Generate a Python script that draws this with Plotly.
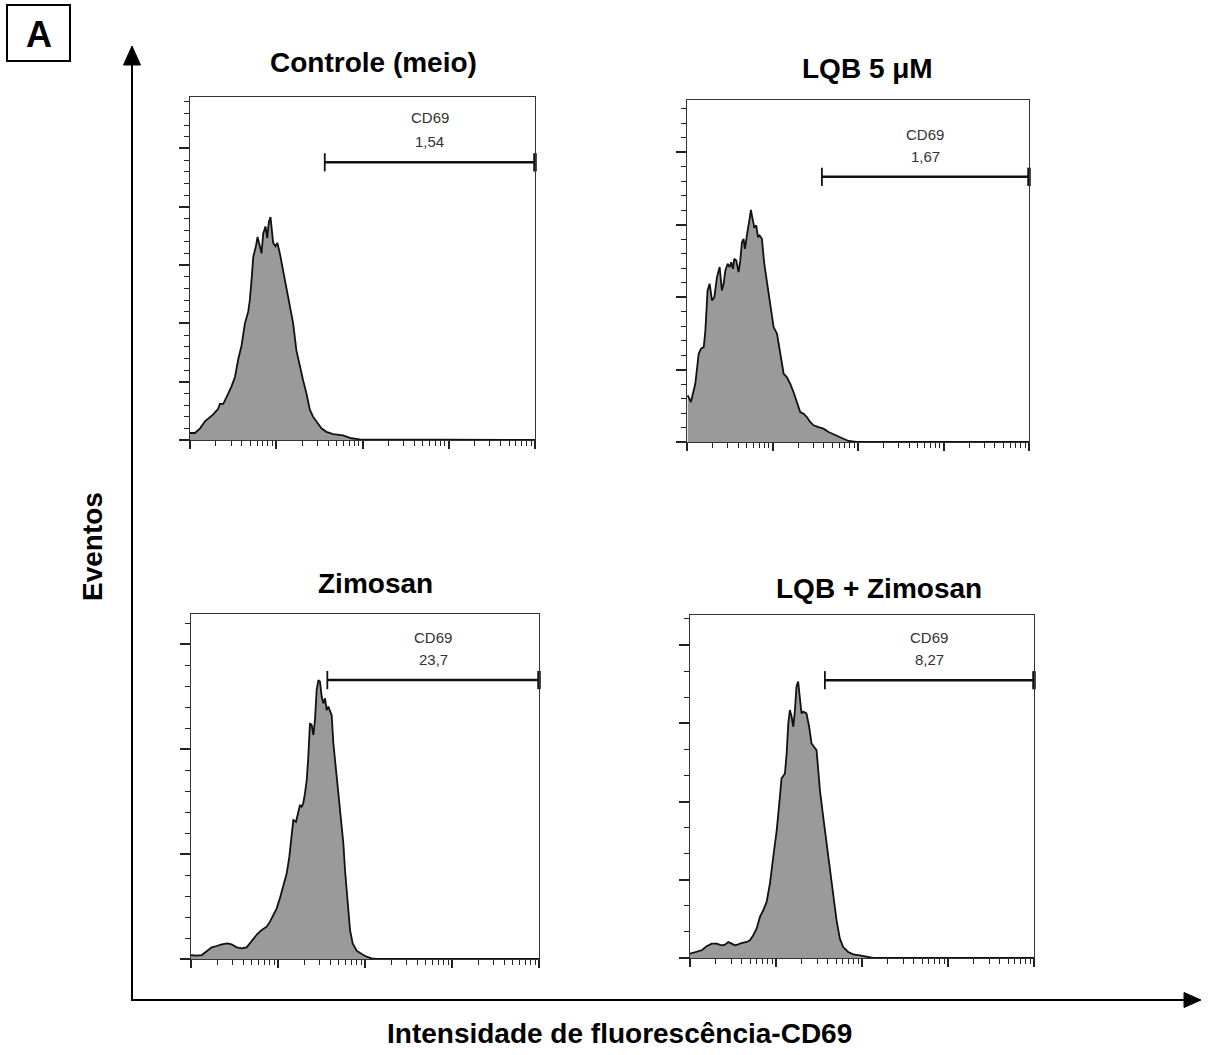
import math
import plotly.graph_objects as go

W, H = 1208, 1055

# ---------------- data ----------------
titles = ["Controle (meio)", "LQB 5 μM", "Zimosan", "LQB + Zimosan"]
gate_name = "CD69"
gate_pct = ["1,54", "1,67", "23,7", "8,27"]
gate_start = [36.5, 37.8, 36.9, 37.0]
gate_end = [10000, 10000, 10000, 10000]
gate_y = [238, 183, 266, 213]
label_name_y = [276, 212, 307, 246]
label_pct_y = [256, 197, 286, 229]

# Controle (meio)
ctrl_x = [1.0, 1.14, 1.31, 1.49, 1.86, 2.13, 2.22, 2.43, 2.78, 3.03, 3.32, 3.62, 3.96, 4.33,
          4.73, 4.94, 5.17, 5.41, 5.81, 6.07, 6.46, 6.75, 7.06, 7.51, 7.85, 8.21, 8.58, 8.89,
          9.21, 9.80, 10.3, 11.0, 12.0, 13.1, 14.4, 15.7, 17.1, 18.7, 20.5, 22.4, 24.5, 26.7,
          29.2, 33.4, 38.1, 45.6, 59.5, 74.3, 92.7, 126, 145, 10000]
ctrl_y = [6, 6, 10, 16, 22, 27, 31, 31, 40, 46, 54, 69, 81, 100,
          110, 120, 137, 157, 166, 174, 166, 160, 177, 183, 173, 187, 191, 180,
          169, 166, 169, 160, 146, 131, 114, 100, 77, 63, 51, 40, 26, 20,
          16, 10, 7, 5, 4, 1.5, 0.6, 0.6, 0, 0]

# LQB 5 µM
lqb_x = [1.02, 1.11, 1.25, 1.37, 1.46, 1.57, 1.64, 1.74, 1.84, 1.96, 2.09, 2.24, 2.41, 2.56,
         2.68, 2.81, 2.99, 3.15, 3.30, 3.45, 3.57, 3.77, 4.01, 4.20, 4.39, 4.59, 4.76, 4.93,
         5.12, 5.40, 5.59, 5.85, 6.12, 6.46, 6.76, 7.06, 7.52, 8.01, 8.77, 9.58, 10.3, 11.3,
         12.3, 13.5, 14.7, 16.1, 17.6, 19.3, 21.1, 23.1, 25.2, 27.6, 30.2, 34.5, 39.5, 45.2,
         51.7, 59.2, 67.7, 77.4, 96.9, 10000]
lqb_y = [32.2, 27.6, 40.2, 60.9, 64.4, 65.5, 77.0, 104.6, 109.2, 97.7, 100.0, 113.8, 120.7, 104.6,
         109.2, 118.4, 123.0, 120.7, 124.1, 119.5, 126.4, 125.3, 117.2, 125.3, 137.9, 140.2, 133.3, 141.4,
         146.0, 154.0, 160.2, 154.0, 148.3, 149.4, 141.4, 142.5, 140.2, 123.0, 106.9, 92.0, 79.3, 74.7,
         60.9, 47.1, 44.8, 40.2, 34.5, 27.6, 20.7, 19.5, 17.2, 13.8, 11.5, 10.3, 9.2, 6.9,
         5.3, 3.4, 2.3, 0.7, 0, 0]

# Zimosan
zym_x = [1.00, 1.16, 1.33, 1.51, 1.73, 1.97, 2.25, 2.62, 2.93, 3.35, 3.82, 4.36, 4.76, 5.20,
         5.78, 6.49, 7.41, 8.09, 8.84, 9.66, 10.5, 11.5, 12.6, 13.5, 14.4, 15.0, 16.1, 17.1,
         17.9, 18.7, 19.5, 20.4, 21.4, 22.3, 23.3, 24.4, 25.5, 26.6, 27.8, 29.1, 30.4, 31.8,
         33.2, 34.7, 36.3, 37.9, 39.6, 41.4, 43.3, 46.0, 49.4, 51.6, 53.9, 56.4, 58.9, 61.5,
         64.3, 67.3, 72.2, 80.2, 91.6, 104.5, 119.4, 136.2, 10000]
zym_y = [3.8, 3.2, 3.8, 7.0, 11.1, 12.4, 14.0, 14.9, 14.0, 11.1, 10.2, 11.1, 14.9, 19.7,
         23.8, 27.6, 30.8, 35.6, 41.9, 48.3, 57.8, 69.0, 81.7, 97.6, 119.8, 132.5, 130.9, 140.5,
         146.8, 145.2, 148.4, 157.9, 170.7, 192.9, 224.7, 223.1, 213.6, 227.9, 256.5, 266.0, 264.4, 250.1,
         243.8, 248.5, 237.4, 240.6, 235.8, 232.6, 205.6, 183.4, 162.7, 148.4, 129.3, 110.3, 84.9, 65.8,
         46.7, 27.6, 14.9, 7.9, 4.8, 2.2, 0.6, 0, 0]

# LQB + Zimosan
lqbzym_x = [1.00, 1.19, 1.37, 1.56, 1.79, 2.04, 2.33, 2.55, 2.79, 3.05, 3.33, 3.64, 3.98, 4.55,
            4.98, 5.44, 5.95, 6.50, 7.11, 7.78, 8.50, 9.29, 10.2, 11.1, 11.6, 12.7, 13.3, 13.9,
            14.5, 15.2, 15.9, 16.6, 17.3, 18.1, 19.0, 19.8, 20.7, 22.6, 24.3, 25.9, 27.6, 29.6,
            31.0, 32.4, 35.4, 38.7, 42.3, 46.2, 50.6, 55.3, 60.4, 69.1, 78.9, 94.4, 112.8, 134.8, 10000]
lqbzym_y = [3.3, 4.6, 5.9, 9.0, 11.0, 11.0, 9.7, 10.2, 12.3, 11.0, 9.7, 10.5, 11.5, 12.3,
            13.6, 17.4, 22.5, 31.5, 36.6, 43.0, 57.1, 77.5, 98.0, 123.6, 137.7, 141.5, 156.9, 179.9,
            190.1, 185.0, 177.3, 190.1, 208.0, 211.9, 195.3, 187.6, 188.9, 187.6, 177.3, 164.5, 162.0, 159.4,
            144.1, 128.7, 108.2, 87.8, 67.3, 46.8, 28.9, 14.8, 8.4, 4.6, 2.8, 2.0, 0.8, 0, 0]

series_x = [ctrl_x, lqb_x, zym_x, lqbzym_x]
series_y = [ctrl_y, lqb_y, zym_y, lqbzym_y]

x_major_ticks = [1, 10, 100, 1000, 10000]
x_minor_ticks = [m * 10 ** k for k in range(4) for m in range(2, 10)]

# ---------------- layout geometry (pixels) ----------------
panel_px = [(190, 535, 97, 440), (687, 1029, 100, 442), (191, 539, 614, 959), (690, 1034, 615, 958)]
y_top = [294, 236, 329, 263]
y_dtick = [50, 50, 100, 60]
y_minor = [10, 10, 20, 20]
title_px = [(373, 63), (867, 68), (375, 583), (879, 588)]

FONT = "Liberation Sans, Arial, Helvetica, sans-serif"


def px(x):
    return x / W


def py(y):
    return 1 - y / H


fig = go.Figure()
layout = {}
annotations = []
shapes = []

for i in range(4):
    sfx = "" if i == 0 else str(i + 1)
    xr, yr = "x" + sfx, "y" + sfx
    x0, x1, y0, y1 = panel_px[i]
    layout["xaxis" + sfx] = dict(
        domain=[px(x0), px(x1)], anchor=yr, type="log", range=[0, 4],
        showline=True, mirror=True, linecolor="#333333", linewidth=1,
        ticks="outside", tickmode="array", tickvals=x_major_ticks, ticklen=8, tickwidth=2,
        tickcolor="#222222", showticklabels=False, showgrid=False, zeroline=False,
        minor=dict(tickmode="array", tickvals=x_minor_ticks, ticks="outside", ticklen=5,
                   tickwidth=1, tickcolor="#222222", showgrid=False),
    )
    layout["yaxis" + sfx] = dict(
        domain=[py(y1), py(y0)], anchor=xr, range=[0, y_top[i]],
        showline=True, mirror=True, linecolor="#333333", linewidth=1,
        ticks="outside", tick0=0, dtick=y_dtick[i], ticklen=10, tickwidth=2,
        tickcolor="#222222", showticklabels=False, showgrid=False, zeroline=False,
        minor=dict(tick0=0, dtick=y_minor[i], ticks="outside", ticklen=5, tickwidth=1,
                   tickcolor="#222222", showgrid=False),
    )

    # histogram
    fig.add_trace(go.Scatter(
        x=series_x[i], y=series_y[i], xaxis=xr, yaxis=yr, mode="lines",
        line=dict(color="#111111", width=1.8), fill="tozeroy", fillcolor="#9a9a9a",
        showlegend=False, hoverinfo="skip",
    ))
    # gate
    fig.add_trace(go.Scatter(
        x=[gate_start[i], gate_end[i]], y=[gate_y[i], gate_y[i]], xaxis=xr, yaxis=yr,
        mode="lines+markers", line=dict(color="#111111", width=2.5),
        marker=dict(symbol="line-ns-open", size=13, color="#111111",
                    line=dict(color="#111111", width=[1.8, 3.5])),
        cliponaxis=False, showlegend=False, hoverinfo="skip",
    ))
    xc = (math.log10(gate_start[i]) + math.log10(gate_end[i])) / 2
    annotations.append(dict(x=xc, y=label_name_y[i], xref=xr, yref=yr, text=gate_name,
                            showarrow=False, font=dict(family=FONT, size=15, color="#333333")))
    annotations.append(dict(x=xc, y=label_pct_y[i], xref=xr, yref=yr, text=gate_pct[i],
                            showarrow=False, font=dict(family=FONT, size=15, color="#333333")))
    tx, ty = title_px[i]
    annotations.append(dict(x=px(tx), y=py(ty), xref="paper", yref="paper", text="<b>" + titles[i] + "</b>",
                            showarrow=False, xanchor="center", yanchor="middle",
                            font=dict(family=FONT, size=28, color="#000000")))

# axis titles
annotations.append(dict(x=px(92), y=py(547), xref="paper", yref="paper", text="<b>Eventos</b>",
                        textangle=-90, showarrow=False, xanchor="center", yanchor="middle",
                        font=dict(family=FONT, size=28, color="#000000")))
annotations.append(dict(x=px(619), y=py(1033), xref="paper", yref="paper",
                        text="<b>Intensidade de fluorescência-CD69</b>",
                        showarrow=False, xanchor="center", yanchor="middle",
                        font=dict(family=FONT, size=28, color="#000000")))
# panel letter
annotations.append(dict(x=px(38.5), y=py(34), xref="paper", yref="paper", text="<b>A</b>",
                        showarrow=False, xanchor="center", yanchor="middle",
                        font=dict(family=FONT, size=36, color="#000000")))
shapes.append(dict(type="rect", xref="paper", yref="paper", x0=px(7), x1=px(70), y0=py(61), y1=py(5),
                   line=dict(color="#000000", width=2)))

# big arrows
shapes.append(dict(type="line", xref="paper", yref="paper", x0=px(132), x1=px(132), y0=py(1001), y1=py(62),
                   line=dict(color="#000000", width=2)))
shapes.append(dict(type="path", xref="paper", yref="paper",
                   path=f"M {px(132)},{py(46)} L {px(123.5)},{py(65)} L {px(140.5)},{py(65)} Z",
                   fillcolor="#000000", line=dict(color="#000000", width=1)))
shapes.append(dict(type="line", xref="paper", yref="paper", x0=px(131), x1=px(1186), y0=py(1000), y1=py(1000),
                   line=dict(color="#000000", width=2)))
shapes.append(dict(type="path", xref="paper", yref="paper",
                   path=f"M {px(1201)},{py(1000)} L {px(1184)},{py(992.5)} L {px(1184)},{py(1007.5)} Z",
                   fillcolor="#000000", line=dict(color="#000000", width=1)))

fig.update_layout(
    width=W, height=H, autosize=False,
    margin=dict(l=0, r=0, t=0, b=0),
    paper_bgcolor="#ffffff", plot_bgcolor="#ffffff",
    annotations=annotations, shapes=shapes, showlegend=False,
    **layout,
)

fig.write_html(
    "out.html",
    config={"displayModeBar": False},
    post_script="document.body.style.margin='0px';document.body.style.padding='0px';document.body.style.overflow='hidden';",
)
